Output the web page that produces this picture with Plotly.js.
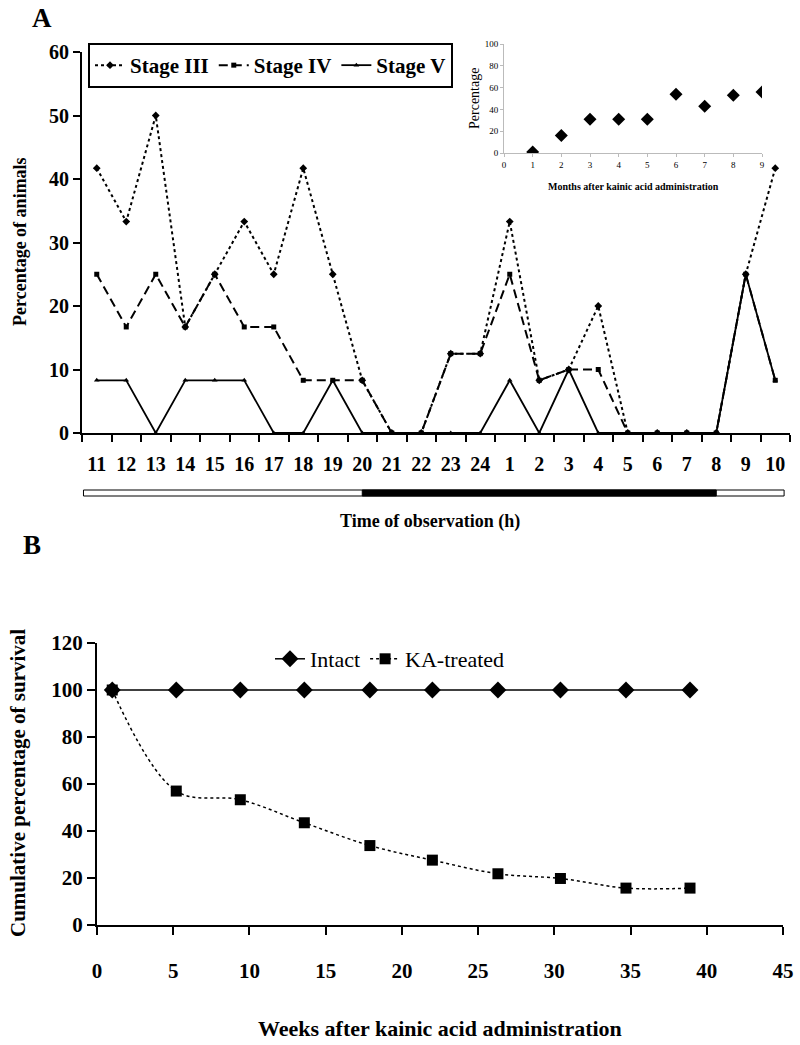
<!DOCTYPE html>
<html>
<head>
<meta charset="utf-8">
<script src="https://cdn.plot.ly/plotly-3.0.1.min.js"></script>
<style>html,body{margin:0;padding:0;background:#fff;}#chart{width:800px;height:1045px;}</style>
</head>
<body>
<div id="chart"></div>
<script>
// ---- Panel A data ----
const hours = ['11','12','13','14','15','16','17','18','19','20','21','22','23','24','1','2','3','4','5','6','7','8','9','10'];
const stage3 = [41.7,33.3,50,16.7,25,33.3,25,41.7,25,8.3,0,0,12.5,12.5,33.3,8.3,10,20,0,0,0,0,25,41.7];
const stage4 = [25,16.7,25,16.7,25,16.7,16.7,8.3,8.3,8.3,0,0,12.5,12.5,25,8.3,10,10,0,0,0,0,25,8.3];
const stage5 = [8.3,8.3,0,8.3,8.3,8.3,0,0,8.3,0,0,0,0,0,8.3,0,10,0,0,0,0,0,25,8.3];
const lightsOff = '20';
const lightsOn = '8';

// ---- Inset data ----
const months = [1,2,3,4,5,6,7,8,9];
const monthPct = [1,16,31,31,31,54,43,53,56];

// ---- Panel B data ----
const weeks = [1,5.2,9.4,13.6,17.9,22,26.3,30.4,34.7,38.9];
const intact = [100,100,100,100,100,100,100,100,100,100];
const kaTreated = [100,57,53.3,43.5,33.8,27.6,21.8,19.8,15.7,15.7];

const SERIF = 'Liberation Serif, Times New Roman, serif';
const W = 800, H = 1045;
const px = v => v / W;
const py = v => 1 - v / H;

const traces = [
  {x: hours, y: stage3, name: 'Stage III', type: 'scatter', mode: 'lines+markers',
   xaxis: 'x', yaxis: 'y', legend: 'legend',
   line: {color: '#000', width: 2, dash: 'dot'},
   marker: {symbol: 'diamond', size: 6, color: '#000'}},
  {x: hours, y: stage4, name: 'Stage IV', type: 'scatter', mode: 'lines+markers',
   xaxis: 'x', yaxis: 'y', legend: 'legend',
   line: {color: '#000', width: 2, dash: '9px,5px'},
   marker: {symbol: 'square', size: 5, color: '#000'}},
  {x: hours, y: stage5, name: 'Stage V', type: 'scatter', mode: 'lines+markers',
   xaxis: 'x', yaxis: 'y', legend: 'legend',
   line: {color: '#000', width: 1.8},
   marker: {symbol: 'triangle-up', size: 5, color: '#000'}},
  {x: months, y: monthPct, type: 'scatter', mode: 'markers', showlegend: false,
   xaxis: 'x3', yaxis: 'y3',
   marker: {symbol: 'diamond', size: 10, color: '#000'}},
  {x: weeks, y: intact, name: 'Intact', type: 'scatter', mode: 'lines+markers',
   xaxis: 'x2', yaxis: 'y2', legend: 'legend2',
   line: {color: '#000', width: 1.5},
   marker: {symbol: 'diamond', size: 13, color: '#000'}},
  {x: weeks, y: kaTreated, name: 'KA-treated', type: 'scatter', mode: 'lines+markers',
   xaxis: 'x2', yaxis: 'y2', legend: 'legend2',
   line: {color: '#000', width: 1.5, dash: 'dot', shape: 'spline', smoothing: 1},
   marker: {symbol: 'square', size: 11, color: '#000'}}
];

const tickFontA = {family: SERIF, size: 20, color: '#000', weight: 'bold'};
const tickFontB = {family: SERIF, size: 21, color: '#000', weight: 'bold'};

function label(text, x, y, size, opts) {
  return Object.assign({
    text: text, x: px(x), y: py(y), xref: 'paper', yref: 'paper',
    xanchor: 'center', yanchor: 'middle', showarrow: false,
    font: {family: SERIF, size: size, color: '#000', weight: 'bold'}
  }, opts || {});
}

const layout = {
  width: W, height: H,
  margin: {l: 0, r: 0, t: 0, b: 0},
  paper_bgcolor: '#fff', plot_bgcolor: 'rgba(0,0,0,0)',
  showlegend: true,
  xaxis: {
    domain: [px(82), px(790)], anchor: 'y', type: 'category',
    range: [-0.5, 23.5], showgrid: false, zeroline: false,
    showline: true, linecolor: '#000', linewidth: 2,
    ticks: 'outside', ticklen: 7, tickwidth: 2, tickcolor: '#000',
    tickson: 'boundaries', ticklabelstandoff: 12, tickangle: 0,
    tickfont: {family: SERIF, size: 20, color: '#000', weight: 'bold'}
  },
  yaxis: {
    domain: [py(433), py(52)], anchor: 'x', range: [0, 60], dtick: 10,
    showgrid: false, zeroline: false,
    showline: true, linecolor: '#000', linewidth: 2,
    ticks: 'outside', ticklen: 7, tickwidth: 2, tickcolor: '#000',
    tickfont: tickFontA
  },
  xaxis3: {
    domain: [px(504), px(762)], anchor: 'y3', range: [0, 9], dtick: 1,
    showgrid: false, zeroline: false,
    showline: true, linecolor: '#bbb', linewidth: 1,
    ticks: 'outside', ticklen: 3, tickcolor: '#bbb',
    tickfont: {family: SERIF, size: 9, color: '#000'}
  },
  yaxis3: {
    domain: [py(153), py(44)], anchor: 'x3', range: [0, 100], dtick: 20,
    showgrid: false, zeroline: false,
    showline: true, linecolor: '#bbb', linewidth: 1,
    ticks: 'outside', ticklen: 3, tickcolor: '#bbb',
    tickfont: {family: SERIF, size: 9, color: '#000'}
  },
  xaxis2: {
    domain: [px(97), px(783)], anchor: 'y2', range: [0, 45], dtick: 5,
    showgrid: false, zeroline: false,
    showline: true, linecolor: '#000', linewidth: 2,
    ticks: 'outside', ticklen: 8, tickwidth: 2, tickcolor: '#000',
    ticklabelstandoff: 18, tickangle: 0,
    tickfont: tickFontB
  },
  yaxis2: {
    domain: [py(925), py(643)], anchor: 'x2', range: [0, 120], dtick: 20,
    showgrid: false, zeroline: false,
    showline: true, linecolor: '#000', linewidth: 2,
    ticks: 'outside', ticklen: 8, tickwidth: 2, tickcolor: '#000',
    tickfont: tickFontB
  },
  legend: {
    orientation: 'h', x: px(88), y: py(43), xanchor: 'left', yanchor: 'top',
    bgcolor: '#fff', bordercolor: '#000', borderwidth: 2,
    font: {family: SERIF, size: 21, color: '#000', weight: 'bold'},
    itemwidth: 30, tracegroupgap: 0
  },
  legend2: {
    orientation: 'h', x: px(270), y: py(638), xanchor: 'left', yanchor: 'top',
    bgcolor: 'rgba(0,0,0,0)', borderwidth: 0,
    font: {family: SERIF, size: 22, color: '#000'},
    itemwidth: 30
  },
  shapes: [
    {type: 'rect', xref: 'x', yref: 'paper', x0: -0.45, x1: 23.3, y0: py(496), y1: py(490),
     fillcolor: '#fff', line: {color: '#000', width: 1}},
    {type: 'rect', xref: 'x', yref: 'paper', x0: hours.indexOf(lightsOff), x1: hours.indexOf(lightsOn),
     y0: py(496), y1: py(490), fillcolor: '#000', line: {color: '#000', width: 1}}
  ],
  annotations: [
    label('A', 42, 18, 27),
    label('B', 32, 545, 27),
    label('Percentage of animals', 20, 242, 18, {textangle: -90}),
    label('Time of observation (h)', 430, 521, 18),
    label('Percentage', 475, 99, 14, {textangle: -90,
      font: {family: SERIF, size: 14, color: '#000'}}),
    label('Months after kainic acid administration', 633, 186, 10),
    label('Cumulative percentage of survival', 18, 783, 21, {textangle: -90}),
    label('Weeks after kainic acid administration', 440, 1028, 22)
  ]
};

Plotly.newPlot('chart', traces, layout, {staticPlot: true, displayModeBar: false});
</script>
</body>
</html>
